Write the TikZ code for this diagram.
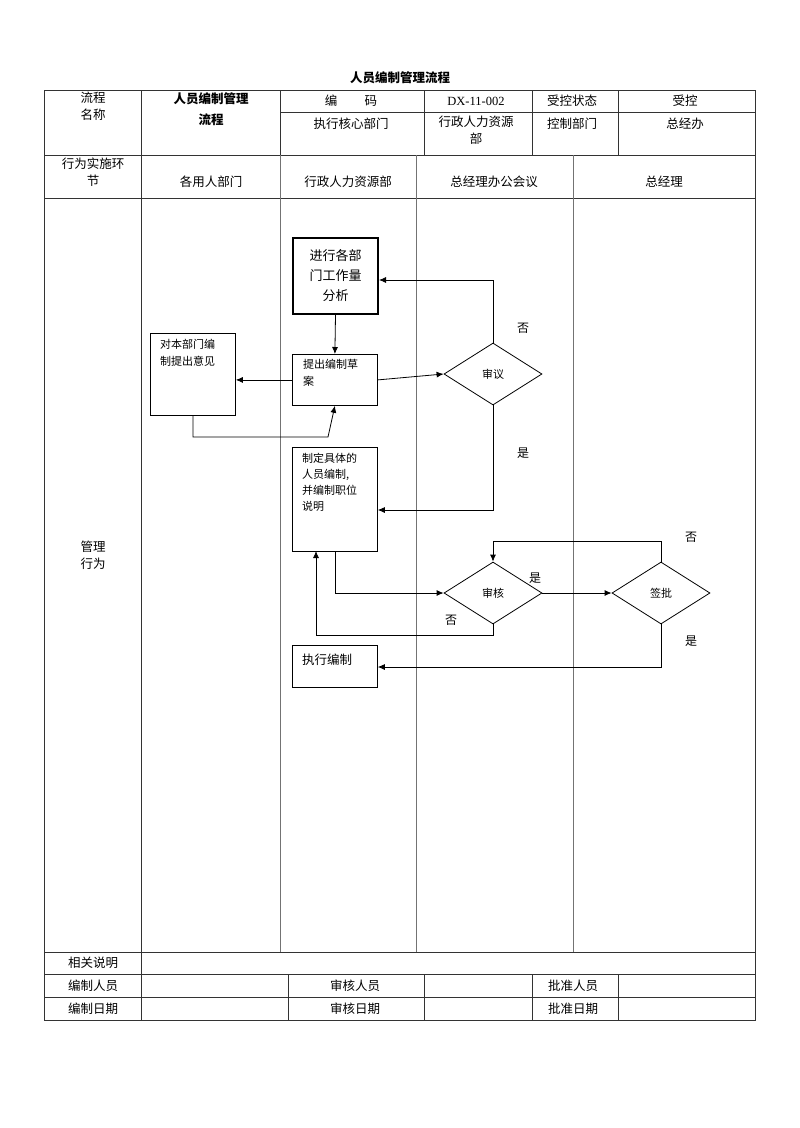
\documentclass[tikz,border=0pt]{standalone}
\usepackage{fontspec}
\setmainfont{Noto Sans CJK SC}
\newfontfamily\serifx{Liberation Serif}
\usetikzlibrary{shapes.geometric,arrows.meta}
\begin{document}
\begin{tikzpicture}[x=1pt,y=-1pt,
  grid/.style={draw=black!80,line width=0.6pt},
  lane/.style={draw=black!55,line width=0.5pt},
  txt/.style={font=\fontsize{12.5}{17}\selectfont,align=center,inner sep=0pt},
  proc/.style={draw,line width=0.8pt,anchor=north west,inner sep=0pt},
  btxt/.style={font=\fontsize{11}{17}\selectfont,align=left,inner sep=0pt,anchor=north west},
  dec/.style={draw,line width=0.8pt,diamond,aspect=1.58,minimum width=98pt,minimum height=62pt,inner sep=0pt,font=\fontsize{11}{14}\selectfont},
  conn/.style={line width=0.8pt},
  arr/.style={line width=0.8pt,-{Latex[length=7pt,width=6pt]}},
  lbl/.style={font=\fontsize{12}{14}\selectfont,inner sep=0pt}]
\useasboundingbox (0,0) rectangle (800,1128);
% title
\node[font=\bfseries\fontsize{12.5}{15}\selectfont] (title) at (400,78) {人员编制管理流程};
% table lines
\draw[grid] (44,90) rectangle (755,1020);
\draw[grid] (280,112) -- (755,112);
\draw[grid] (44,155) -- (755,155);
\draw[grid] (44,198) -- (755,198);
\draw[grid] (44,952) -- (755,952);
\draw[grid] (44,974) -- (755,974);
\draw[grid] (44,997) -- (755,997);
\draw[grid] (141,90) -- (141,1020);
\foreach \x in {280,424,532,618} \draw[grid] (\x,90) -- (\x,155);
\foreach \x in {280,416,573} \draw[lane] (\x,155) -- (\x,952);
\foreach \x in {288,424,532,618} \draw[grid] (\x,974) -- (\x,1020);
% header texts
\node[txt,anchor=north] (h1) at (93,92) {流程\\名称};
\node[txt,anchor=north,font=\bfseries\fontsize{12.5}{21}\selectfont] (h2) at (211,92) {人员编制管理\\流程};
\node[txt] (h3) at (351,101) {编\hspace{2.2em}码};
\node[txt,font=\serifx\fontsize{12.5}{15}\selectfont] (h4) at (476,101) {DX-11-002};
\node[txt] (h5) at (572,101) {受控状态};
\node[txt] (h6) at (685,101) {受控};
\node[txt] (h7) at (351,124) {执行核心部门};
\node[txt,anchor=north] (h8) at (476,116) {行政人力资源\\部};
\node[txt] (h9) at (572,124) {控制部门};
\node[txt] (h10) at (685,124) {总经办};
\node[txt,anchor=north] (r1) at (93,158) {行为实施环\\节};
\node[txt] (r2) at (211,182) {各用人部门};
\node[txt] (r3) at (348,182) {行政人力资源部};
\node[txt] (r4) at (494,182) {总经理办公会议};
\node[txt] (r5) at (664,182) {总经理};
\node[txt] (r6) at (93,555) {管理\\行为};
% bottom
\node[txt] (b1) at (93,963) {相关说明};
\node[txt] (b2) at (93,986) {编制人员};
\node[txt] (b3) at (93,1009) {编制日期};
\node[txt] (b4) at (355,986) {审核人员};
\node[txt] (b5) at (355,1009) {审核日期};
\node[txt] (b6) at (573,986) {批准人员};
\node[txt] (b7) at (573,1009) {批准日期};
% process boxes
\node[proc,line width=2pt,minimum width=85pt,minimum height=76pt] (p1) at (292,237) {};
\node[txt,font=\fontsize{13}{20}\selectfont] at (p1.center) {进行各部\\门工作量\\分析};
\node[proc,minimum width=85pt,minimum height=51pt] (p2) at (292,354) {};
\node[btxt] at (303,359) {提出编制草\\案};
\node[proc,minimum width=85pt,minimum height=82pt] (p0) at (150,333) {};
\node[btxt] at (160,339) {对本部门编\\制提出意见};
\node[proc,minimum width=85pt,minimum height=104pt] (p3) at (292,447) {};
\node[btxt,font=\fontsize{11}{16}\selectfont] at (302,453) {制定具体的\\人员编制,\\并编制职位\\说明};
\node[proc,minimum width=85pt,minimum height=42pt] (p4) at (292,645) {};
\node[btxt,font=\fontsize{12.5}{16}\selectfont] at (302,654) {执行编制};
% decisions
\node[dec] (d1) at (493,374) {审议};
\node[dec] (d2) at (493,593) {审核};
\node[dec] (d3) at (661,593) {签批};
% connectors
\draw[arr] (p1.south) -- (p2.north);
\draw[arr] (d1.north) |- (p1.east |- 0,280);
\draw[arr] (p2.east) -- (d1.west);
\draw[arr] (p2.west) -- (p0.east |- p2.west);
\draw[arr] (p0.south) |- (328,437) -- (p2.south);
\draw[arr] (d1.south) |- (p3.east |- 0,510);
\draw[arr] (p3.south) |- (d2.west);
\draw[arr] (d2.south) |- (316,635) -- (316,551);
\draw[arr] (d2.east) -- (d3.west);
\draw[arr] (d3.north) |- (493,541) -- (d2.north);
\draw[arr] (d3.south) |- (p4.east |- 0,667);
% labels
\node[lbl] (l1) at (523,328) {否};
\node[lbl] (l2) at (523,453) {是};
\node[lbl] (l3) at (535,578) {是};
\node[lbl] (l4) at (451,620) {否};
\node[lbl] (l5) at (691,537) {否};
\node[lbl] (l6) at (691,641) {是};
\end{tikzpicture}
\end{document}
